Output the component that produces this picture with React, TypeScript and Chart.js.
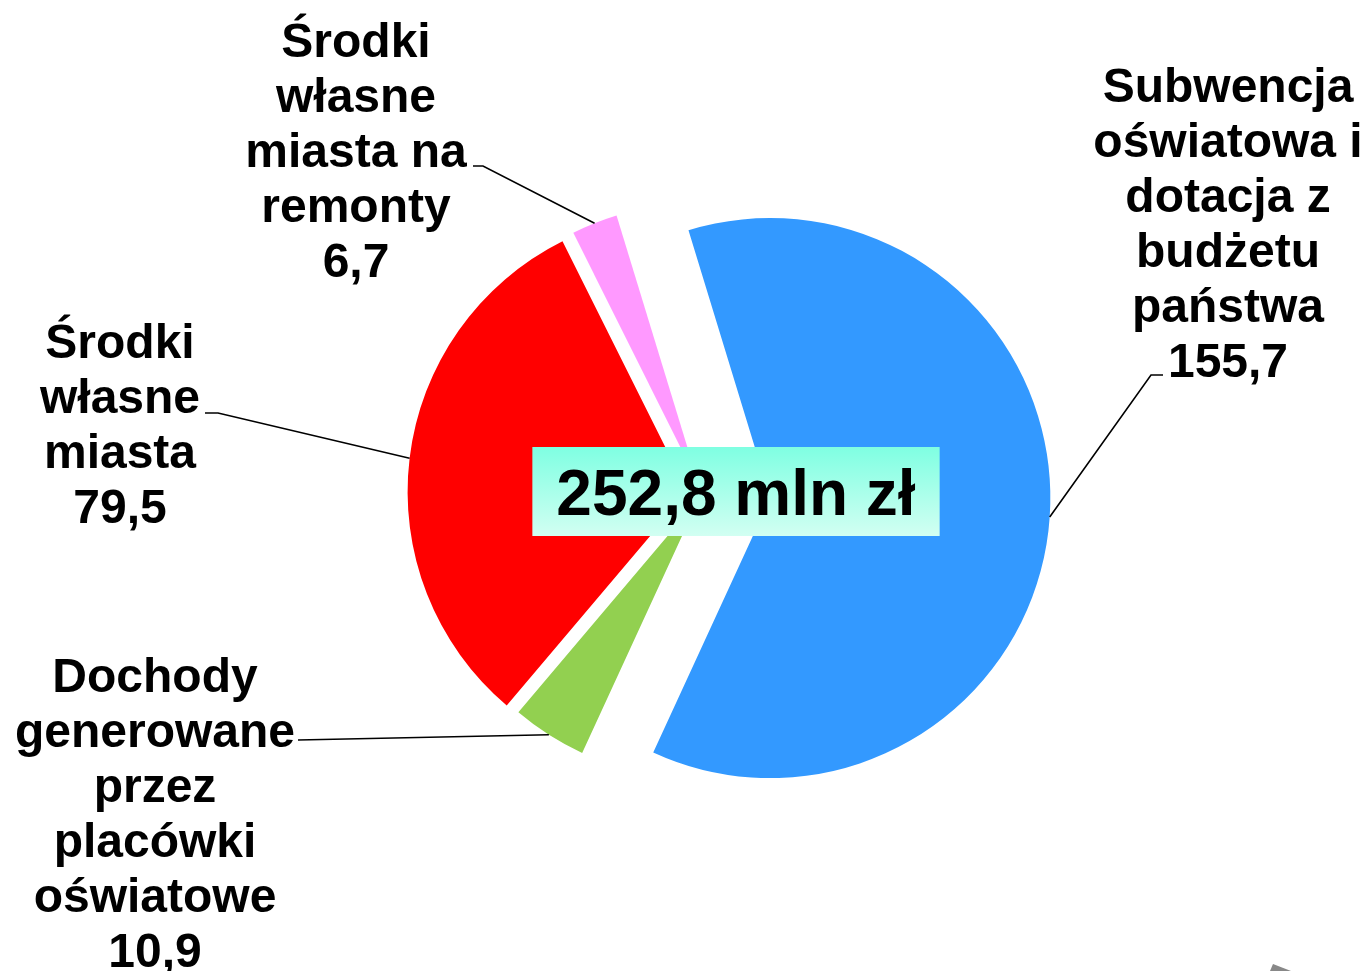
import React, { useEffect, useRef } from 'react';
import { Chart, registerables } from 'chart.js';

Chart.register(...registerables);

// ---- data ----
const categories = [
  'Subwencja oświatowa i dotacja z budżetu państwa',
  'Dochody generowane przez placówki oświatowe',
  'Środki własne miasta',
  'Środki własne miasta na remonty',
];
const values = [155.7, 10.9, 79.5, 6.7];
const categoryLines = [
  ['Subwencja', 'oświatowa i', 'dotacja z', 'budżetu', 'państwa'],
  ['Dochody', 'generowane', 'przez', 'placówki', 'oświatowe'],
  ['Środki', 'własne', 'miasta'],
  ['Środki', 'własne', 'miasta na', 'remonty'],
];
const unit = 'mln zł';

// ---- styling / layout ----
const colors = ['#3399FF', '#92D050', '#FF0000', '#FF99FF'];
const explode = [68, 6, 15, 11];
const pieRadius = 280;
const labelAnchors = [
  { x: 1228, y: 102 },
  { x: 155, y: 692 },
  { x: 120, y: 358 },
  { x: 356, y: 57 },
];
const leaderBends: number[][][] = [
  [[1151, 375], [1163, 375]],
  [[298, 740]],
  [[218, 413], [205, 413]],
  [[483, 166], [473, 166]],
];
const FONT = '"Liberation Sans", Arial, Helvetica, sans-serif';
const labelFontSize = 48;
const lineHeight = 55;
const centerBox = { cx: 736, top: 447, height: 89, padX: 24, baseline: 515 };

const fmt = (v: number) => v.toFixed(1).replace('.', ',');

const explodePlugin = {
  id: 'explodeSlices',
  beforeDatasetsDraw(chart: any) {
    const meta = chart.getDatasetMeta(0);
    const ca = chart.chartArea;
    const cx = (ca.left + ca.right) / 2;
    const cy = (ca.top + ca.bottom) / 2;
    meta.data.forEach((arc: any, i: number) => {
      const mid = (arc.startAngle + arc.endAngle) / 2;
      arc.x = cx + explode[i] * Math.cos(mid);
      arc.y = cy + explode[i] * Math.sin(mid);
      arc.outerRadius = pieRadius;
    });
  },
};

const labelsPlugin = {
  id: 'outerLabels',
  afterDatasetsDraw(chart: any) {
    const ctx = chart.ctx as CanvasRenderingContext2D;
    const meta = chart.getDatasetMeta(0);
    ctx.save();
    // leader lines
    ctx.strokeStyle = '#000000';
    ctx.lineWidth = 1.6;
    meta.data.forEach((arc: any, i: number) => {
      const mid = (arc.startAngle + arc.endAngle) / 2;
      const px = arc.x + arc.outerRadius * Math.cos(mid);
      const py = arc.y + arc.outerRadius * Math.sin(mid);
      ctx.beginPath();
      ctx.moveTo(px, py);
      leaderBends[i].forEach((p) => ctx.lineTo(p[0], p[1]));
      ctx.stroke();
    });
    // labels
    ctx.fillStyle = '#000000';
    ctx.font = `bold ${labelFontSize}px ${FONT}`;
    ctx.textAlign = 'center';
    ctx.textBaseline = 'alphabetic';
    categoryLines.forEach((lines, i) => {
      const all = [...lines, fmt(values[i])];
      const a = labelAnchors[i];
      all.forEach((t, k) => ctx.fillText(t, a.x, a.y + k * lineHeight));
    });
    // centre total box
    const total = values.reduce((s, v) => s + v, 0);
    const text = `${fmt(total)} ${unit}`;
    ctx.font = `bold 64px ${FONT}`;
    const w = ctx.measureText(text).width + centerBox.padX * 2;
    const left = centerBox.cx - w / 2;
    const grad = ctx.createLinearGradient(0, centerBox.top, 0, centerBox.top + centerBox.height);
    grad.addColorStop(0, '#7FFFE2');
    grad.addColorStop(1, '#D2FFF2');
    ctx.fillStyle = grad;
    ctx.fillRect(left, centerBox.top, w, centerBox.height);
    ctx.fillStyle = '#000000';
    ctx.fillText(text, centerBox.cx, centerBox.baseline);
    // small grey shape at bottom right corner
    ctx.fillStyle = '#888888';
    ctx.beginPath();
    ctx.moveTo(1270, 971);
    ctx.lineTo(1273, 964);
    ctx.lineTo(1291, 971);
    ctx.closePath();
    ctx.fill();
    ctx.restore();
  },
};

export default function App() {
  const ref = useRef<HTMLCanvasElement | null>(null);
  useEffect(() => {
    if (!ref.current) return;
    const chart = new Chart(ref.current, {
      type: 'pie',
      data: {
        labels: categories,
        datasets: [
          {
            data: values,
            backgroundColor: colors,
            borderWidth: 0,
          },
        ],
      },
      options: {
        animation: false,
        responsive: true,
        maintainAspectRatio: false,
        devicePixelRatio: 1,
        rotation: -17,
        radius: pieRadius,
        layout: { padding: { left: 41, right: 0, top: 16, bottom: 0 } },
        plugins: {
          legend: { display: false },
          tooltip: { enabled: false },
          title: { display: false },
        },
      },
      plugins: [explodePlugin, labelsPlugin],
    });
    return () => chart.destroy();
  }, []);
  return (
    <div style={{ position: 'absolute', left: 0, top: 0, width: 1364, height: 971, background: '#ffffff' }}>
      <canvas ref={ref} />
    </div>
  );
}
